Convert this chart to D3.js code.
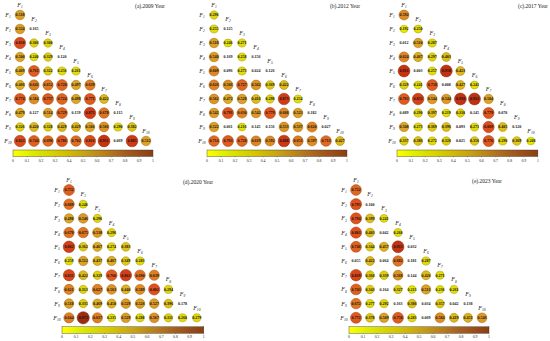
<!DOCTYPE html>
<html><head><meta charset="utf-8">
<script src="https://cdn.jsdelivr.net/npm/d3@7"></script>
<style>body{margin:0;background:#fff}svg{display:block}</style>
</head><body>
<script>
const variables = ["F1","F2","F3","F4","F5","F6","F7","F8","F9","F10"];
const titles = ["(a).2009 Year","(b).2012 Year","(c).2017 Year","(d).2020 Year","(e).2023 Year"];
const ticks = [0,0.1,0.2,0.3,0.4,0.5,0.6,0.7,0.8,0.9,1];
const v2009 = [
 [0.518],
 [0.524,0.165],
 [0.818,0.306,0.300],
 [0.500,0.240,0.329,0.120],
 [0.469,0.761,0.322,0.256,0.261],
 [0.466,0.641,0.652,0.728,0.497,0.639],
 [0.774,0.584,0.757,0.724,0.498,0.771,0.422],
 [0.479,0.127,0.514,0.729,0.159,0.871,0.678,0.115],
 [0.326,0.420,0.328,0.429,0.429,0.506,0.566,0.290,0.382],
 [0.823,0.744,0.698,0.786,0.702,0.816,0.911,0.069,0.885,0.512]];
const v2012 = [
 [0.296],
 [0.255,0.125],
 [0.518,0.246,0.271],
 [0.540,0.169,0.258,0.156],
 [0.609,0.096,0.273,0.024,0.126],
 [0.626,0.566,0.727,0.562,0.369,0.422],
 [0.562,0.472,0.528,0.416,0.298,0.873,0.254],
 [0.542,0.791,0.630,0.542,0.779,0.608,0.523,0.182],
 [0.522,0.061,0.216,0.145,0.156,0.553,0.537,0.620,0.027],
 [0.714,0.763,0.728,0.619,0.592,0.888,0.651,0.597,0.713,0.427]];
const v2017 = [
 [0.592],
 [0.192,0.250],
 [0.012,0.510,0.287],
 [0.624,0.467,0.297,0.403],
 [0.911,0.003,0.257,0.918,0.423],
 [0.329,0.241,0.758,0.008,0.427,0.241],
 [0.763,0.853,0.544,0.544,0.918,0.922,0.504],
 [0.089,0.290,0.397,0.219,0.310,0.145,0.779,0.070],
 [0.508,0.273,0.369,0.396,0.093,0.271,0.809,0.405,0.120],
 [0.337,0.386,0.272,0.326,0.025,0.356,0.776,0.290,0.369,0.208]];
const v2020 = [
 [0.752],
 [0.689,0.246],
 [0.498,0.546,0.296],
 [0.678,0.675,0.538,0.296],
 [0.862,0.362,0.467,0.274,0.383],
 [0.259,0.512,0.437,0.467,0.349,0.283],
 [0.831,0.422,0.329,0.760,0.863,0.690,0.639],
 [0.621,0.313,0.627,0.563,0.440,0.589,0.802,0.294],
 [0.518,0.335,0.469,0.450,0.529,0.526,0.527,0.396,0.178],
 [0.644,0.971,0.637,0.235,0.529,0.288,0.567,0.311,0.260,0.279]];
const v2023 = [
 [0.722],
 [0.795,0.100],
 [0.794,0.399,0.241],
 [0.803,0.403,0.042,0.260],
 [0.746,0.344,0.457,0.915,0.032],
 [0.055,0.422,0.064,0.682,0.181,0.287],
 [0.839,0.366,0.339,0.568,0.144,0.426,0.271],
 [0.743,0.343,0.164,0.327,0.213,0.511,0.236,0.261],
 [0.672,0.277,0.292,0.163,0.386,0.034,0.357,0.042,0.138],
 [0.772,0.378,0.509,0.758,0.283,0.069,0.584,0.419,0.451,0.546]];
const datasets = [v2009,v2012,v2017,v2020,v2023];

const W=550,H=341;
const svg = d3.select("body").append("svg").attr("width",W).attr("height",H);
const defs = svg.append("defs");

const layout = [
 {x0:20, y0:15, dx:14, dy:14, title:[150,8]},
 {x0:214,y0:15, dx:14, dy:14, title:[345,8]},
 {x0:404,y0:15, dx:14.1,dy:14, title:[533,8]},
 {x0:69, y0:190,dx:14.2,dy:14.2,title:[198,184]},
 {x0:356,y0:190,dx:14, dy:14.2,title:[487,183]}
];

const barStops = [[0,"#ffff00"],[0.1,"#e4f200"],[0.2,"#d8e000"],[0.35,"#d4c400"],[0.5,"#c8a414"],[0.65,"#b8801e"],[0.8,"#a45e20"],[1,"#8a3e12"]];
const circStops = [[0,"#ffff00"],[0.2,"#e6e800"],[0.35,"#e0cc10"],[0.5,"#dea424"],[0.65,"#e07c22"],[0.8,"#e0501c"],[0.9,"#cc3412"],[1,"#8a2a0a"]];
const barColor = d3.scaleLinear().domain(barStops.map(d=>d[0])).range(barStops.map(d=>d[1]));
const circColor = d3.scaleLinear().domain(circStops.map(d=>d[0])).range(circStops.map(d=>d[1]));
const rs = d3.scaleLinear().domain([0.185,1]).range([3.8,6.2]);

const grad = defs.append("linearGradient").attr("id","cb").attr("x1","0%").attr("x2","100%");
d3.range(0,1.0001,0.05).forEach(t=>grad.append("stop").attr("offset",(t*100)+"%").attr("stop-color",barColor(t)));

datasets.forEach((data,p)=>{
  const L = layout[p];
  const g = svg.append("g");
  const xs = d3.scaleLinear().domain([0,9]).range([L.x0, L.x0+9*L.dx]);
  const ys = d3.scaleLinear().domain([0,9]).range([L.y0, L.y0+9*L.dy]);
  variables.forEach((v,i)=>{
    const lab = (x,y)=>{
      const t = g.append("text").attr("x",x).attr("y",y).attr("font-family","Liberation Serif, serif")
        .attr("font-size",6).attr("font-style","italic").attr("fill","#222").attr("text-anchor","middle");
      t.append("tspan").text("F");
      t.append("tspan").attr("font-size",3.6).attr("dy",1.2).text(v.slice(1));
    };
    lab(xs(0)-12, ys(i)+2);
    lab(xs(i), ys(i)-8);
  });
  data.forEach((row,i)=>{
    row.forEach((val,j)=>{
      if (val >= 0.185) {
        g.append("circle").attr("cx",xs(j)).attr("cy",ys(i)).attr("r",rs(val))
          .attr("fill",circColor(val)).attr("stroke",d3.color(circColor(val)).darker(1.0)).attr("stroke-width",0.5);
      }
      g.append("text").attr("x",xs(j)).attr("y",ys(i)+1.4).attr("text-anchor","middle")
        .attr("font-family","Liberation Serif, serif").attr("font-size",4).attr("font-weight","bold")
        .attr("fill","#111").text(d3.format(".3f")(val));
    });
  });
  const cx = d3.scaleLinear().domain([0,1]).range([L.x0-7, L.x0+9*L.dx+7]);
  const cy = ys(9)+9;
  g.append("rect").attr("x",cx(0)).attr("y",cy).attr("width",cx(1)-cx(0)).attr("height",6.5)
    .attr("fill","url(#cb)").attr("stroke","#333").attr("stroke-width",0.4);
  ticks.forEach(t=>{
    g.append("line").attr("x1",cx(t)).attr("x2",cx(t)).attr("y1",cy+6.5).attr("y2",cy+7.5).attr("stroke","#333").attr("stroke-width",0.3);
    g.append("text").attr("x",cx(t)).attr("y",cy+11.5).attr("text-anchor","middle")
      .attr("font-family","Liberation Serif, serif").attr("font-size",3.8).attr("fill","#222").text(t===0||t===1?t:t.toFixed(1));
  });
  svg.append("text").attr("x",L.title[0]).attr("y",L.title[1]).attr("text-anchor","middle")
    .attr("font-family","Liberation Serif, serif").attr("font-size",5.5).attr("fill","#222").text(titles[p]);
});
</script>
</body></html>
